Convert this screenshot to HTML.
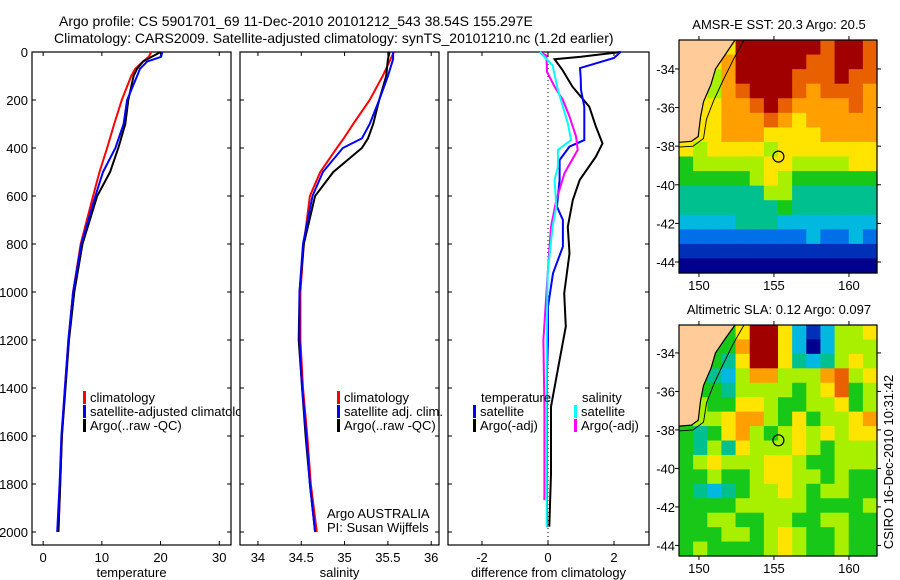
<!DOCTYPE html>
<html><head><meta charset="utf-8"><style>
body{margin:0;background:#fff;}
svg{display:block;font-family:"Liberation Sans",sans-serif;}
text{font-size:13px;fill:#000;}
</style></head><body>
<svg id="fig" width="900" height="580" viewBox="0 0 900 580">
<text x="59" y="26" style="font-size:14px">Argo profile: CS 5901701_69 11-Dec-2010 20101212_543 38.54S 155.297E</text>
<text x="54" y="43" style="font-size:14px">Climatology: CARS2009. Satellite-adjusted climatology: synTS_20101210.nc (1.2d earlier)</text>
<g id="g"></g>
</svg>
<script>
// ---- profile data ----
const tDepth=[0,20,40,70,100,200,300,400,500,600,800,1000,1200,1400,1600,1800,2000];
const tClim=[18.4,18.0,17.0,15.7,15.0,13.4,12.1,10.9,9.6,8.5,6.4,5.1,4.3,3.7,3.2,2.9,2.6];
const tSat=[20.3,20.1,17.7,16.5,16.0,14.3,13.7,12.3,10.2,8.9,6.5,5.1,4.3,3.7,3.1,2.8,2.4];
const tArgo=[20.0,18.5,17.0,16.0,15.4,14.5,14.0,12.8,11.4,9.2,6.7,5.3,4.4,3.8,3.2,2.9,2.6];
const sDepth=[0,30,100,200,300,360,400,500,600,800,1000,1200,1400,1600,1800,2000];
const sClim=[35.57,35.53,35.44,35.29,35.1,34.99,34.91,34.72,34.6,34.53,34.49,34.49,34.52,34.57,34.61,34.68];
const sSat=[35.56,35.56,35.5,35.4,35.29,35.2,34.98,34.75,34.63,34.52,34.48,34.48,34.51,34.56,34.6,34.66];
const sArgo=[35.52,35.5,35.48,35.4,35.33,35.27,35.2,34.87,34.66,34.53,34.48,34.47,34.51,34.55,34.6,34.66];
const dDepthT=[0,25,67,108,158,228,367,394,450,533,644,700,811,922,1061,1200,1339,1600,1978];
const dTSat=[2.2,2.0,0.97,0.99,1.0,1.1,1.1,0.65,0.35,0.35,0.27,0.45,0.45,0.15,0.0,0.0,-0.03,-0.03,-0.03];
const dDepthA=[0,20,30,75,144,228,311,381,436,533,617,728,839,1006,1144,1283,1478,1756,1978];
const dTArgo=[2.2,1.0,0.2,0.44,0.74,1.25,1.45,1.65,1.45,0.96,0.75,0.6,0.65,0.49,0.54,0.35,0.09,0.09,0.04];
const dDepthS=[0,56,158,228,297,367,408,478,533,644,728,922,1200,1600,1978];
const dSSat=[-0.25,0.14,0.3,0.45,0.6,0.7,0.3,0.3,0.2,0.25,0.14,-0.01,-0.04,-0.04,-0.04];
const dDepthM=[0,15,83,144,200,269,353,408,505,617,728,922,1200,1478,1867];
const dSArgo=[-0.25,-0.05,-0.03,0.2,0.45,0.65,0.85,0.9,0.5,0.25,0.09,-0.01,-0.14,-0.11,-0.11];
const depthTicks=[0,200,400,600,800,1000,1200,1400,1600,1800,2000];
const tTicks=[0,10,20,30], sTicks=[34,34.5,35,35.5,36], dTicks=[-2,0,2];
// ---- map data (-1 = land, 0..10 colour index) ----
const sstGrid=[
[-1,-1,-1,7,10,10,10,10,10,10,9,10,10,9],
[-1,-1,-1,8,10,10,10,10,10,9,9,10,10,9],
[-1,-1,6,8,10,10,10,10,9,9,9,10,9,9],
[-1,-1,6,8,9,10,10,10,9,8,9,9,9,8],
[-1,-1,7,8,8,9,10,9,8,8,8,8,9,8],
[-1,-1,7,8,8,8,9,8,7,8,8,8,8,8],
[-1,-1,7,8,8,8,7,7,7,7,8,8,8,8],
[-1,6,7,7,7,7,6,7,7,7,7,7,7,7],
[5,6,6,6,6,6,7,7,6,6,6,6,7,7],
[5,5,5,5,5,6,7,6,5,5,5,5,5,5],
[4,4,4,4,4,4,6,6,4,4,4,4,4,4],
[4,4,4,4,4,4,4,5,4,4,4,4,4,4],
[3,3,3,3,4,4,4,3,3,3,3,3,3,3],
[2,2,2,2,2,2,2,2,2,3,2,2,3,2],
[1,1,1,1,1,1,1,1,1,1,1,1,1,1],
[0,0,0,0,0,0,0,0,0,0,0,0,0,0]];
const slaGrid=[
[-1,-1,-1,5,7,10,10,7,3,1,3,6,6,7],
[-1,-1,-1,5,8,10,10,7,3,0,3,6,6,6],
[-1,-1,5,4,7,10,10,7,4,3,4,6,7,6],
[-1,-1,4,3,6,8,8,6,6,6,8,9,6,7],
[-1,-1,5,4,6,6,6,6,5,6,7,9,5,6],
[-1,6,5,5,7,7,6,5,5,6,6,7,5,6],
[-1,6,6,7,8,8,6,5,7,5,6,6,7,8],
[5,4,5,7,8,6,5,6,7,6,7,6,7,7],
[5,4,6,4,7,6,6,6,7,6,5,6,6,6],
[5,6,7,6,6,6,7,7,6,5,5,6,6,6],
[5,5,6,5,5,6,7,7,6,6,5,6,5,5],
[5,4,3,4,5,6,6,7,6,5,6,6,5,5],
[5,5,5,5,6,6,6,6,6,5,5,5,5,6],
[5,5,6,6,5,5,6,6,5,5,6,6,5,5],
[5,5,5,6,6,5,6,7,6,5,5,6,5,5],
[5,6,5,5,5,5,6,7,6,5,5,6,5,5]];
const latTicks=[-34,-36,-38,-40,-42,-44], lonTicks=[150,155,160];
const argoLon=155.297, argoLat=-38.54;
const coastLine=[[152.4,-32.4],[151.8,-33.2],[151.1,-34.0],[150.8,-34.8],[150.3,-35.7],[150.1,-36.5],[149.95,-37.5],[149.5,-37.75],[148.6,-37.8]];
const shelfLine=[[153.0,-32.4],[152.3,-33.5],[151.6,-34.6],[151.0,-35.6],[150.5,-36.6],[150.3,-37.6],[149.6,-38.0],[148.6,-38.05]];

const NS='http://www.w3.org/2000/svg', G=document.getElementById('g');
function el(tag,at,parent){const e=document.createElementNS(NS,tag);for(const k in at)e.setAttribute(k,at[k]);(parent||G).appendChild(e);return e;}
function txt(x,y,s,anchor,parent){const t=el('text',{x:x,y:y,'text-anchor':anchor||'start'},parent);t.textContent=s;return t;}
const cmap=['#00008f','#0030b8','#0070e8','#00b8e0','#00c090','#18c818','#a8f000','#ffe400','#ffa000','#e86000','#a00000'];
const Y=d=>52+d*0.24;
function panel(x0,x1,xmin,xmax,ticks,label,name,first){
  const X=v=>x0+(v-xmin)/(xmax-xmin)*(x1-x0);
  const g=el('g',{});
  
  
  el('rect',{x:x0,y:52,width:x1-x0,height:493,fill:'#fff',stroke:'#000','stroke-width':1.2},g);
  ticks.forEach(v=>{const x=X(v);el('line',{x1:x,x2:x,y1:545,y2:541,stroke:'#000'},g);el('line',{x1:x,x2:x,y1:52,y2:56,stroke:'#000'},g);
    const t=txt(x,562,String(v),'middle',g);});
  depthTicks.forEach(d=>{const y=Y(d);el('line',{x1:x0,x2:x0+4,y1:y,y2:y,stroke:'#000'},g);el('line',{x1:x1,x2:x1-4,y1:y,y2:y,stroke:'#000'},g);
    if(first){const t=txt(x0-4,y+5,String(d),'end',g);}});
  const xl=txt((x0+x1)/2,577,label,'middle',g);
  
  
  return X;
}
function line(X,vals,depths,color,name,w){
  const p=el('polyline',{points:vals.map((v,i)=>X(v).toFixed(1)+','+Y(depths[i]).toFixed(1)).join(' '),fill:'none',stroke:color,'stroke-width':w||2});
  
  
}
function legend(x,y,color,label,name){
  const r=el('rect',{x:x,y:y-11,width:3,height:13,fill:color});
  
  
  const t=txt(x+7,y,label);
  
  
}
// Panel 1
const XT=panel(32,231,-1.9,32,tTicks,'temperature','temperature-panel',true);
line(XT,tClim,tDepth,'#f00','temp-climatology-line');
line(XT,tArgo,tDepth,'#000','temp-argo-line');
line(XT,tSat,tDepth,'#00f','temp-satellite-line');
legend(83,402,'#f00','climatology','legend-climatology');
legend(83,416,'#00f','satellite-adjusted climatology','legend-satellite');
legend(83,430,'#000','Argo(..raw -QC)','legend-argo');
// Panel 2
const XS=panel(240,439,33.793,36.09,sTicks,'salinity','salinity-panel',false);
line(XS,sClim,sDepth,'#f00','sal-climatology-line');
line(XS,sArgo,sDepth,'#000','sal-argo-line');
line(XS,sSat,sDepth,'#00f','sal-satellite-line');
legend(337,402,'#f00','climatology','legend-sal-climatology');
legend(337,416,'#00f','satellite adj. clim.','legend-sal-satellite');
legend(337,430,'#000','Argo(..raw -QC)','legend-sal-argo');
let t=txt(327,518,'Argo AUSTRALIA');
t=txt(327,532,'PI: Susan Wijffels');
// Panel 3
const XD=panel(448,649,-3.03,3.06,dTicks,'difference from climatology','difference-panel',false);
const zl=el('line',{x1:XD(0),x2:XD(0),y1:52,y2:545,stroke:'#000','stroke-dasharray':'1,3'});

line(XD,dTArgo,dDepthA,'#000','diff-temp-argo-line');
line(XD,dTSat,dDepthT,'#00f','diff-temp-satellite-line');
line(XD,dSArgo,dDepthM,'#f0f','diff-sal-argo-line');
line(XD,dSSat,dDepthS,'#0ff','diff-sal-satellite-line');
t=txt(481,402,'temperature');
legend(473,416,'#00f','satellite','legend-diff-temp-satellite');
legend(473,430,'#000','Argo(-adj)','legend-diff-temp-argo');
t=txt(582,402,'salinity');
legend(574,416,'#0ff','satellite','legend-diff-sal-satellite');
legend(574,430,'#f0f','Argo(-adj)','legend-diff-sal-argo');
// Maps
function map(y0,y1,latTop,latBot,grid,landFill,title,name){
  const x0=679,x1=877,lonL=148.67,lonR=161.87;
  const LX=v=>Math.max(x0,Math.min(x1,x0+(v-lonL)/(lonR-lonL)*(x1-x0))), LY=v=>Math.max(y0,y0+(latTop-v)/(latTop-latBot)*(y1-y0));
  const g=el('g',{});
  
  
  const rows=grid.length,cols=grid[0].length,cw=(x1-x0)/cols,ch=(y1-y0)/rows;
  grid.forEach((r,i)=>r.forEach((v,j)=>{
    const c=el('rect',{x:(x0+j*cw).toFixed(2),y:(y0+i*ch).toFixed(2),width:(cw+0.6).toFixed(2),height:(ch+0.6).toFixed(2),fill:cmap[v<0?landFill:v]},g);
    
    
  }));
  const pts=coastLine.map(p=>LX(p[0]).toFixed(1)+','+LY(p[1]).toFixed(1));
  const land=el('polygon',{points:x0+','+y0+' '+pts.join(' '),fill:'#ffcc99',stroke:'none'},g);
  
  
  el('polyline',{points:pts.join(' '),fill:'none',stroke:'#000','stroke-width':1.2},g);
  el('polyline',{points:shelfLine.map(p=>LX(p[0]).toFixed(1)+','+LY(p[1]).toFixed(1)).join(' '),fill:'none',stroke:'#000','stroke-width':0.9},g);
  el('rect',{x:x0,y:y0,width:x1-x0,height:y1-y0,fill:'none',stroke:'#000','stroke-width':1.2},g);
  latTicks.forEach(v=>{const y=y0+(latTop-v)/(latTop-latBot)*(y1-y0);if(y<y0||y>y1)return;el('line',{x1:x0,x2:x0-4,y1:y,y2:y,stroke:'#000'},g);el('line',{x1:x1,x2:x1+4,y1:y,y2:y,stroke:'#000'},g);
    const tl=txt(x0-4,y+5,String(v),'end',g);});
  lonTicks.forEach(v=>{const x=LX(v);el('line',{x1:x,x2:x,y1:y1,y2:y1+4,stroke:'#000'},g);el('line',{x1:x,x2:x,y1:y0,y2:y0-4,stroke:'#000'},g);
    const tl=txt(x,y1+17,String(v),'middle',g);});
  const c=el('circle',{cx:LX(argoLon),cy:LY(argoLat),r:5.5,fill:'none',stroke:'#000','stroke-width':1.2},g);
  
  
  const tt=txt(779,y0-11,title,'middle',g);
  
  
}
map(40,273,-32.5,-44.57,sstGrid,7,'AMSR-E SST: 20.3 Argo: 20.5','sst-map');
map(325,556,-32.55,-44.55,slaGrid,5,'Altimetric SLA: 0.12 Argo: 0.097','sla-map');
t=txt(0,0,'CSIRO 16-Dec-2010 10:31:42','middle');
t.setAttribute('transform','translate(893,462) rotate(-90)');


</script>
</body></html>
